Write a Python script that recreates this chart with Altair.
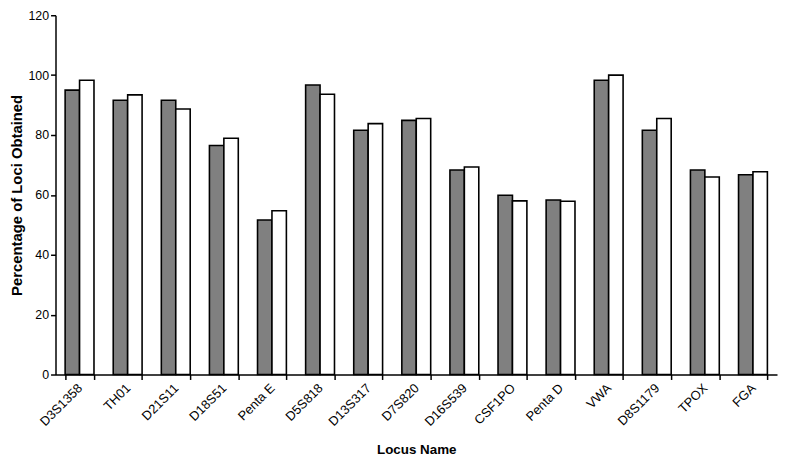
import altair as alt
import pandas as pd

loci = ["D3S1358", "TH01", "D21S11", "D18S51", "Penta E", "D5S818", "D13S317",
        "D7S820", "D16S539", "CSF1PO", "Penta D", "VWA", "D8S1179", "TPOX", "FGA"]
series_a = [95.0, 91.6, 91.6, 76.5, 51.6, 96.7, 81.6, 84.9, 68.3, 59.9, 58.3, 98.3, 81.6, 68.3, 66.7]
series_b = [98.3, 93.4, 88.7, 78.9, 54.7, 93.6, 83.8, 85.5, 69.3, 58.0, 57.9, 100.0, 85.5, 66.0, 67.7]
series_names = ["Series 1", "Series 2"]
series_colors = ["#808080", "#ffffff"]

rows = []
for i, loc in enumerate(loci):
    rows.append({"locus": loc, "series": series_names[0], "value": series_a[i]})
    rows.append({"locus": loc, "series": series_names[1], "value": series_b[i]})
df = pd.DataFrame(rows)

FONT = "Liberation Sans"

chart = alt.Chart(df).mark_bar(stroke="black", strokeWidth=1.6).encode(
    x=alt.X("locus:N", sort=loci,
            scale=alt.Scale(paddingInner=0.4, paddingOuter=0.2),
            axis=alt.Axis(title="Locus Name", labelAngle=-45, tickBand="extent",
                          tickSize=5, tickColor="black", tickWidth=1.5,
                          domainColor="black", domainWidth=1.5,
                          labelFont=FONT, labelFontSize=13, labelColor="black",
                          labelPadding=2, labelOffset=-4,
                          titleFont=FONT, titleFontSize=13.5, titleFontWeight="bold",
                          titleColor="black", titlePadding=14)),
    xOffset=alt.XOffset("series:N", sort=series_names),
    y=alt.Y("value:Q", scale=alt.Scale(domain=[0, 120], nice=False),
            axis=alt.Axis(title="Percentage of Loci Obtained", values=[0, 20, 40, 60, 80, 100, 120],
                          grid=False, tickSize=5, tickColor="black", tickWidth=1.5,
                          domainColor="black", domainWidth=1.5,
                          labelFont=FONT, labelFontSize=12.5, labelColor="black",
                          labelPadding=2,
                          titleFont=FONT, titleFontSize=15, titleFontWeight="bold",
                          titleColor="black", titlePadding=3)),
    color=alt.Color("series:N", sort=series_names,
                    scale=alt.Scale(domain=series_names, range=series_colors),
                    legend=None),
).properties(
    width=729, height=363,
    autosize=alt.AutoSizeParams(type="none"),
    padding={"left": 48, "top": 5, "right": 1, "bottom": 80},
).configure_view(stroke=None)

chart.save("out.html", embed_options={"renderer": "svg", "actions": False})
